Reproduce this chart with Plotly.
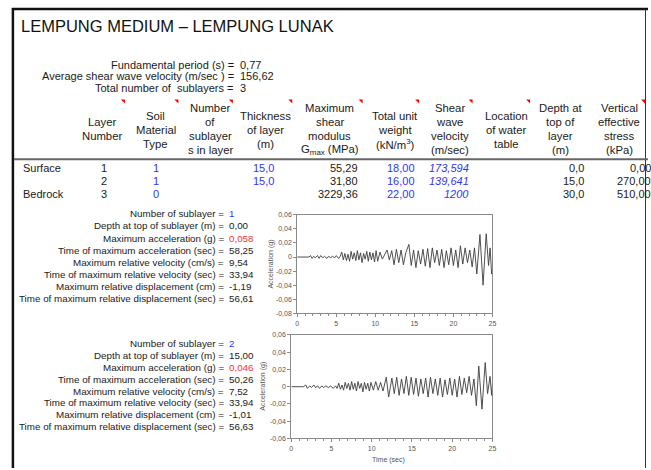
import plotly.graph_objects as go

W, H = 651, 470

# ---------------- data ----------------
title_text = "LEMPUNG MEDIUM – LEMPUNG LUNAK"

summary_labels = ["Fundamental period (s) =",
                  "Average shear wave velocity (m/sec ) =",
                  "Total number of  sublayers ="]
summary_values = ["0,77", "156,62", "3"]

header_lines = [
    ["Layer", "Number"],
    ["Soil", "Material", "Type"],
    ["Number", "of", "sublayer", "s in layer"],
    ["Thickness", "of layer", "(m)"],
    ["Maximum", "shear", "modulus", "G<sub>max</sub> (MPa)"],
    ["Total unit", "weight", "(kN/m<sup>3</sup>)"],
    ["Shear", "wave", "velocity", "(m/sec)"],
    ["Location", "of water", "table"],
    ["Depth at", "top of", "layer", "(m)"],
    ["Vertical", "effective", "stress", "(kPa)"],
]

row_labels = ["Surface", "", "Bedrock"]
layer_number = ["1", "2", "3"]
soil_type = ["1", "1", "0"]
thickness = ["15,0", "15,0", ""]
gmax = ["55,29", "31,80", "3229,36"]
unit_weight = ["18,00", "16,00", "22,00"]
shear_velocity = ["173,594", "139,641", "1200"]
depth_top = ["0,0", "15,0", "30,0"]
vert_stress = ["0,00", "270,00", "510,00"]

info_labels = ["Number of sublayer =",
               "Depth at top of sublayer (m) =",
               "Maximum acceleration (g) =",
               "Time of maximum acceleration (sec) =",
               "Maximum relative velocity (cm/s) =",
               "Time of maximum relative velocity (sec) =",
               "Maximum relative displacement (cm) =",
               "Time of maximum relative displacement (sec) ="]
info_values_1 = ["1", "0,00", "0,058", "58,25", "9,54", "33,94", "-1,19", "56,61"]
info_values_2 = ["2", "15,00", "0,046", "50,26", "7,52", "33,94", "-1,01", "56,63"]

# acceleration time history, sublayer 1 (turning points)
time_1 = [0.0, 1.5, 1.7, 1.9, 2.1, 2.3, 2.6, 2.8, 3.0, 3.3, 3.5, 3.8, 4.0, 4.3, 4.5,
          4.8, 5.0, 5.3, 5.5, 5.7, 5.9, 6.1, 6.3, 6.5, 6.7, 6.9, 7.1, 7.3, 7.5, 7.7,
          7.9, 8.1, 8.3, 8.5, 8.7, 8.9, 9.1, 9.3, 9.5, 9.7, 9.9, 10.1, 10.3, 10.6,
          10.9, 11.2, 11.5, 11.8, 12.1, 12.4, 12.7, 13.0, 13.3, 13.6, 13.9, 14.3,
          14.6, 14.9, 15.2, 15.5, 15.8, 16.1, 16.4, 16.7, 17.0, 17.3, 17.6, 17.9,
          18.2, 18.5, 18.8, 19.1, 19.4, 19.7, 20.0, 20.3, 20.6, 20.9, 21.2, 21.5,
          21.8, 22.1, 22.4, 22.7, 23.0, 23.4, 23.8, 24.2, 24.5, 24.7, 24.9, 25.0]
acc_1 = [0.0, 0.0, 0.002, -0.002, 0.001, -0.001, 0.002, -0.002, 0.002, -0.001, 0.001,
         -0.002, 0.001, -0.001, 0.001, -0.001, 0.002, -0.002, 0.001, 0.007, -0.004,
         0.005, -0.005, 0.004, -0.006, 0.008, -0.003, 0.006, -0.005, 0.009, -0.004,
         0.006, -0.008, 0.005, -0.003, 0.008, -0.006, 0.007, -0.004, 0.006, -0.007,
         0.009, -0.006, 0.007, -0.003, 0.004, 0.010, -0.004, 0.009, -0.011, 0.011,
         -0.008, 0.010, -0.011, 0.006, 0.018, -0.012, 0.010, -0.015, 0.009, -0.010,
         0.011, -0.013, 0.012, -0.015, 0.013, -0.008, 0.010, -0.012, 0.011, -0.015,
         0.009, -0.011, 0.013, -0.012, 0.010, -0.015, 0.016, -0.010, 0.013, -0.008,
         0.010, -0.014, 0.013, -0.024, 0.032, -0.040, 0.033, -0.012, 0.013, -0.024,
         -0.018]

# acceleration time history, sublayer 2
time_2 = [0.0, 1.5, 1.8, 2.0, 2.3, 2.5, 2.8, 3.0, 3.3, 3.5, 3.8, 4.0, 4.3, 4.6, 4.9,
          5.2, 5.5, 5.7, 5.9, 6.1, 6.3, 6.5, 6.7, 6.9, 7.1, 7.3, 7.5, 7.7, 7.9, 8.1,
          8.3, 8.5, 8.7, 8.9, 9.1, 9.3, 9.5, 9.7, 9.9, 10.2, 10.5, 10.8, 11.1, 11.4,
          11.8, 12.1, 12.5, 12.8, 13.1, 13.4, 13.7, 14.0, 14.3, 14.6, 14.9, 15.2,
          15.5, 15.8, 16.1, 16.4, 16.7, 17.0, 17.3, 17.6, 17.9, 18.2, 18.5, 18.8,
          19.1, 19.4, 19.7, 20.0, 20.3, 20.6, 20.9, 21.2, 21.5, 21.8, 22.1, 22.4,
          22.7, 23.0, 23.3, 23.7, 24.1, 24.4, 24.7, 24.9, 25.0]
acc_2 = [0.0, 0.0, 0.002, -0.002, 0.001, -0.001, 0.002, -0.001, 0.001, -0.002, 0.001,
         -0.001, 0.001, -0.001, 0.001, -0.002, 0.001, -0.002, 0.004, -0.003, 0.002,
         -0.004, 0.005, -0.002, 0.004, -0.004, 0.006, -0.003, 0.004, -0.005, 0.006,
         -0.002, 0.004, -0.006, 0.005, -0.003, 0.004, -0.005, 0.005, -0.004, 0.006,
         -0.004, 0.005, -0.005, 0.011, -0.012, 0.010, -0.008, 0.011, -0.010, 0.009,
         -0.008, 0.012, -0.010, 0.011, -0.009, 0.010, -0.011, 0.009, -0.008, 0.010,
         -0.012, 0.011, -0.008, 0.009, -0.010, 0.010, -0.012, 0.008, -0.009, 0.010,
         -0.010, 0.009, -0.012, 0.012, -0.009, 0.010, -0.007, 0.012, -0.010, 0.009,
         -0.022, 0.024, -0.026, 0.028, -0.008, 0.012, -0.010, 0.005]

x_ticks = [0, 5, 10, 15, 20, 25]
x_ticktext = ["0", "5", "10", "15", "20", "25"]
y_ticks_1 = [-0.08, -0.06, -0.04, -0.02, 0, 0.02, 0.04, 0.06]
y_ticktext_1 = ["-0,08", "-0,06", "-0,04", "-0,02", "0", "0,02", "0,04", "0,06"]
y_ticks_2 = [-0.06, -0.04, -0.02, 0, 0.02, 0.04, 0.06]
y_ticktext_2 = ["-0,06", "-0,04", "-0,02", "0", "0,02", "0,04", "0,06"]

# ---------------- styling ----------------
FONT = "Liberation Sans, Arial, sans-serif"
BLACK = "#1a1a1a"
BLUE = "#3333ff"
RED = "#ff3030"
GRAY_TXT = "#555555"
AXIS = "#8a8a8a"

annotations = []


def px(x):
    return x / W


def py(y):
    return 1 - y / H


def txt(x, y, s, size=11, color=BLACK, xanchor="center", italic=False,
        angle=0, family=FONT):
    if not s:
        return
    annotations.append(dict(
        x=px(x), y=py(y), xref="paper", yref="paper", text=s, showarrow=False,
        xanchor=xanchor, yanchor="middle", textangle=angle,
        font=dict(family=family, size=size, color=color,
                  style="italic" if italic else "normal"),
        borderpad=0))


# title
txt(18, 22, title_text, size=16.5, color="#111111", xanchor="left")

# summary block
for i, (lab, val) in enumerate(zip(summary_labels, summary_values)):
    y = 62 + i * 11.5
    txt(235, y, lab, size=11, xanchor="right")
    txt(239, y, val, size=11, xanchor="left")

# header
header_x = [101, 155, 210, 266, 331, 397, 452, 509, 564, 623]
line_y = {2: [120, 134], 3: [114, 128, 142], 4: [106, 120, 134, 148]}
for cx, lines in zip(header_x, header_lines):
    for s, y in zip(lines, line_y[len(lines)]):
        txt(cx, y, s, size=11.3)

# data rows
row_y = [166, 179.5, 193]
for i, y in enumerate(row_y):
    txt(20, y, row_labels[i], size=11, xanchor="left")
    txt(103, y, layer_number[i], size=11)
    txt(155, y, soil_type[i], size=11, color=BLUE)
    txt(276, y, thickness[i], size=11, color=BLUE, xanchor="right")
    txt(360, y, gmax[i], size=11, xanchor="right")
    txt(418, y, unit_weight[i], size=11, color=BLUE, xanchor="right")
    txt(472, y, shear_velocity[i], size=11, color=BLUE, xanchor="right", italic=True)
    txt(588, y, depth_top[i], size=11, xanchor="right")
    txt(656, y, vert_stress[i], size=11, xanchor="right")

# sublayer info blocks
val_colors = [BLUE, BLACK, RED, BLACK, BLACK, BLACK, BLACK, BLACK]
for y0, dy, vals in [(213, 12.3, info_values_1), (345, 12.0, info_values_2)]:
    for i, (lab, val) in enumerate(zip(info_labels, vals)):
        y = y0 + i * dy
        txt(225, y, lab, size=9.8, xanchor="right")
        txt(228, y, val, size=9.8, color=val_colors[i], xanchor="left")

# chart axis titles
txt(272, 264, "Acceleration (g)", size=7, color=GRAY_TXT, angle=-90)
txt(264, 388, "Acceleration (g)", size=7, color=GRAY_TXT, angle=-90)
txt(390, 463, "Time (sec)", size=7, color=GRAY_TXT)

# red comment markers at header cell corners
marker_x = [124, 178, 233, 293, 364, 421, 475, 533, 649]
shapes = []
for mx in marker_x:
    shapes.append(dict(type="path", xref="paper", yref="paper",
                       path=f"M {px(mx-4)},{py(97)} L {px(mx)},{py(97)} L {px(mx)},{py(101)} Z",
                       fillcolor="#ff0000", line=dict(width=0)))

# frame lines
shapes.append(dict(type="line", xref="paper", yref="paper", x0=px(11), x1=px(11),
                   y0=py(4), y1=py(471), line=dict(color="#111111", width=2.5)))
shapes.append(dict(type="line", xref="paper", yref="paper", x0=px(10), x1=px(652),
                   y0=py(5), y1=py(5), line=dict(color="#111111", width=2.5)))
shapes.append(dict(type="line", xref="paper", yref="paper", x0=px(649.5), x1=px(649.5),
                   y0=py(5), y1=py(471), line=dict(color="#333333", width=1)))
# header underline
shapes.append(dict(type="line", xref="paper", yref="paper", x0=px(12), x1=px(652),
                   y0=py(157.5), y1=py(157.5), line=dict(color="#666666", width=2)))

fig = go.Figure()
fig.add_trace(go.Scatter(x=time_1, y=acc_1, mode="lines", xaxis="x", yaxis="y",
                         line=dict(color="#3c3c3c", width=0.9), showlegend=False,
                         hoverinfo="skip"))
fig.add_trace(go.Scatter(x=time_2, y=acc_2, mode="lines", xaxis="x2", yaxis="y2",
                         line=dict(color="#3c3c3c", width=0.9), showlegend=False,
                         hoverinfo="skip"))

axis_common = dict(showline=True, linecolor=AXIS, linewidth=1, mirror=True,
                   showgrid=False, zeroline=False, ticks="outside", ticklen=3,
                   tickcolor=AXIS, tickwidth=1, fixedrange=True,
                   tickfont=dict(family=FONT, size=7, color=GRAY_TXT))

fig.update_layout(
    width=W, height=H, margin=dict(l=0, r=0, t=0, b=0),
    paper_bgcolor="white", plot_bgcolor="white",
    font=dict(family=FONT, color=BLACK),
    xaxis=dict(domain=[px(298), px(495)], range=[0, 25], anchor="y",
               tickvals=x_ticks, ticktext=x_ticktext,
               minor=dict(dtick=1, ticks="outside", ticklen=2, tickcolor=AXIS),
               **axis_common),
    yaxis=dict(domain=[py(314), py(214)], range=[-0.08, 0.06], anchor="x",
               tickvals=y_ticks_1, ticktext=y_ticktext_1, **axis_common),
    xaxis2=dict(domain=[px(292), px(495)], range=[0, 25], anchor="y2",
                tickvals=x_ticks, ticktext=x_ticktext,
                minor=dict(dtick=1, ticks="outside", ticklen=2, tickcolor=AXIS),
                **axis_common),
    yaxis2=dict(domain=[py(441), py(336)], range=[-0.06, 0.06], anchor="x2",
                tickvals=y_ticks_2, ticktext=y_ticktext_2, **axis_common),
    annotations=annotations,
    shapes=shapes,
)

fig.write_html("out.html", config={"displayModeBar": False},
               post_script="document.body.style.margin='0';")
